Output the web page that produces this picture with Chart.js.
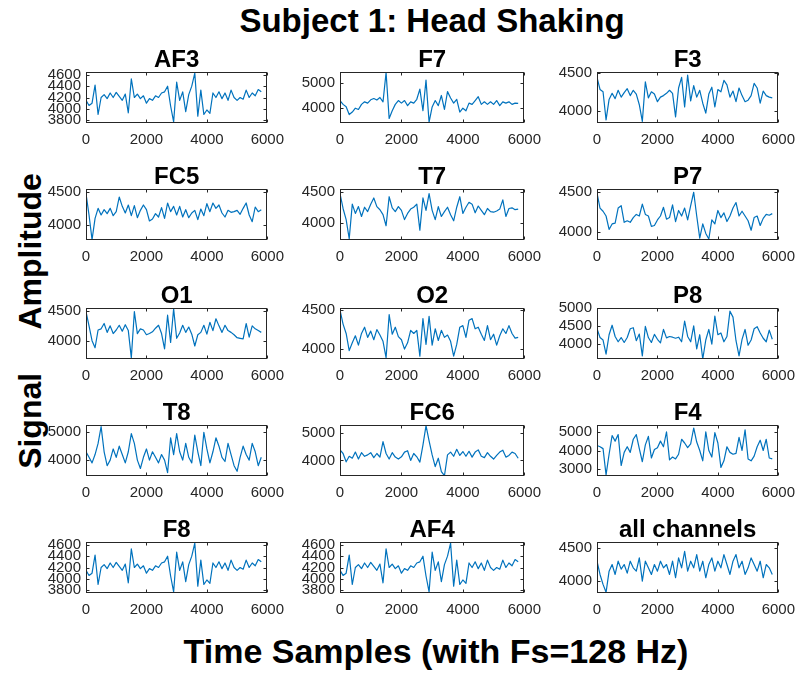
<!DOCTYPE html>
<html>
<head>
<meta charset="utf-8">
<script src="https://cdn.jsdelivr.net/npm/chart.js@4.4.0/dist/chart.umd.min.js"></script>
<style>
  body { margin: 0; background: #fff; }
  #wrap { position: relative; width: 803px; height: 675px; overflow: hidden; font-family: "Liberation Sans", Arial, sans-serif; }
  .cv { position: absolute; }
  .lbl { position: absolute; font-weight: bold; color: #000; line-height: 1; white-space: pre; }
</style>
</head>
<body>
<div id="wrap">
  <div class="lbl" style="font-size:33px; left:432px; top:4px; transform:translateX(-50%);">Subject 1: Head Shaking</div>
  <div class="lbl" style="font-size:32px; left:30px; top:321px; transform:translate(-50%,-50%) rotate(-90deg);">Signal     Amplitude</div>
  <div class="lbl" style="font-size:34px; left:436px; top:634px; transform:translateX(-50%);">Time Samples (with Fs=128 Hz)</div>
</div>
<script>
(function () {
  'use strict';

  // sample index of each plotted point
  const SAMPLES = [0, 100, 200, 300, 400, 500, 600, 700, 800, 900,
    1000, 1100, 1200, 1300, 1400, 1500, 1600, 1700, 1800, 1900,
    2000, 2100, 2200, 2300, 2400, 2500, 2600, 2700, 2800, 2900,
    3000, 3100, 3200, 3300, 3400, 3500, 3600, 3700, 3800, 3900,
    4000, 4100, 4200, 4300, 4400, 4500, 4600, 4700, 4800, 4900,
    5000, 5100, 5200, 5300, 5400, 5500, 5600, 5700, 5800];
  const X_TICKS = [0, 2000, 4000, 6000];

  const CHANNELS = ['AF3', 'F7', 'F3', 'FC5', 'T7', 'P7', 'O1', 'O2', 'P8', 'T8', 'FC6', 'F4', 'F8', 'AF4', 'all channels'];

  const AF3 = [4150, 4060, 4100, 4420, 3900, 4200, 4250, 4180, 4280, 4200,
    4290, 4220, 4150, 4260, 3930, 4530, 4200, 4260, 4180, 4230,
    4100, 4180, 4150, 4230, 4200, 4280, 4300, 4400, 4050, 3770,
    4470, 4150, 4300, 3950, 4250, 4400, 4630, 3870, 4330, 3900,
    3980, 3920, 4280, 4200, 4300, 4180, 4280, 4150, 4330, 4200,
    4150, 4200, 4170, 4330, 4200, 4280, 4230, 4340, 4300];
  const F7 = [4300, 4150, 4060, 3750, 3850, 4000, 3950, 4150, 4250, 4200,
    4330, 4380, 4320, 4420, 4250, 5400, 3600, 3900, 4150, 4300,
    4200, 4300, 4100, 4250, 4200, 4350, 4750, 3900, 5100, 3450,
    4050, 4300, 4100, 4500, 3950, 4650, 4400, 4200, 4350, 3850,
    4000, 3900, 4200, 4150, 4300, 4450, 4150, 4250, 4150, 4250,
    4150, 4300, 4100, 4250, 4200, 4250, 4150, 4200, 4190];
  const F3 = [4440, 4280, 4250, 3880, 4150, 4230, 4160, 4270, 4180, 4240,
    4290, 4200, 4270, 4220, 4080, 3860, 4380, 4170, 4250, 4220,
    4120, 4180, 4200, 4230, 4270, 4230, 3920, 4300, 4440, 4050,
    4470, 4130, 4330, 4180, 4270, 4100, 3970, 4220, 4310, 4050,
    4280, 4250, 4400, 4340, 4180, 4260, 4120, 4300, 4200, 4120,
    4140, 4200, 4360, 4300, 4100, 4260, 4200, 4180, 4170];
  const FC5 = [4470, 4150, 3780, 4100, 4250, 4150, 4230, 4170, 4250, 4140,
    4200, 4420, 4280, 4180, 4300, 4140, 4290, 4110, 4220, 4300,
    4230, 4060, 4090, 4170, 4120, 4260, 4100, 4330, 4200, 4280,
    4150, 4280, 4120, 4230, 4110, 4180, 4220, 4080, 4240, 4140,
    4320, 4200, 4330, 4250, 4300, 4180, 4120, 4220, 4190, 4200,
    4220, 4160, 4250, 4330, 4150, 4050, 4270, 4200, 4230];
  const T7 = [4470, 4230, 4050, 3740, 4300, 4150, 4260, 4100, 4250, 4180,
    4300, 4400, 4260, 4210, 4130, 3950, 4420, 4240, 4180, 4260,
    4200, 4050, 4150, 4220, 4250, 4300, 3880, 4400, 4200, 4470,
    4200, 4050, 4260, 4100, 4180, 4250, 4130, 4030, 4250, 4420,
    4150, 4250, 4330, 4300, 4160, 4270, 4200, 4130, 4230, 4180,
    4170, 4190, 4220, 4370, 4100, 4230, 4240, 4210, 4220];
  const P7 = [4490, 4300, 4260, 4200, 4030, 4100, 4110, 4300, 4330, 4120,
    4140, 4120, 4180, 4220, 4200, 4350, 4220, 4200, 4070, 4080,
    4150, 4200, 4310, 4160, 4180, 4340, 4130, 4270, 4200, 4300,
    4150, 4330, 4500, 4200, 3920, 4100, 3980, 3910, 4150, 4100,
    4270, 4180, 4240, 4130, 4200, 4300, 4370, 4200, 4260, 4200,
    4140, 4020, 4180, 4200, 4080, 4170, 4220, 4210, 4230];
  const O1 = [4490, 4250, 4000, 3880, 4180, 4200, 4290, 4140, 4250, 4120,
    4180, 4260, 4160, 4270, 4170, 3710, 4490, 4120, 4200, 4180,
    4100, 4120, 4150, 4210, 4260, 4120, 3860, 4430, 3970, 4540,
    4040, 4130, 4260, 4140, 4230, 4110, 3910, 4100, 4140, 4260,
    4110, 4310, 4170, 4370, 4250, 4140, 4260, 4170, 4140, 4100,
    4050, 4040, 4030, 4290, 4060, 4250, 4200, 4170, 4140];
  const O2 = [4500, 4320, 4200, 3980, 4080, 4170, 4050, 4200, 4280, 4150,
    4230, 4120, 4250, 4180, 4100, 3890, 4440, 4190, 4280, 4160,
    4120, 4000, 4080, 4240, 4200, 4240, 3910, 4390, 4060, 4420,
    4050, 4260, 4110, 4240, 4150, 4180, 4100, 3910, 4060, 4280,
    4300, 4150, 4370, 4390, 4260, 4280, 4190, 4110, 4300, 4120,
    4190, 4050, 4170, 4260, 4200, 4300, 4200, 4140, 4150];
  const P8 = [4420, 4170, 4100, 3700, 4250, 4520, 4200, 4050, 4170, 4030,
    4170, 4420, 4450, 4080, 4270, 3650, 4490, 4170, 4030, 4260,
    4120, 4020, 4400, 4160, 4200, 4180, 4150, 4180, 4050, 4640,
    4200, 4050, 4500, 3850, 4250, 3560, 4100, 4400, 3980, 4780,
    4250, 4300, 4050, 4200, 4920, 4750, 4080, 3650, 4120, 4400,
    3950, 4100, 4420, 4480, 4300, 4150, 4050, 4380, 4120];
  const T8 = [4300, 4100, 3900, 4200, 4600, 5200, 4300, 3800, 4000, 4400,
    4100, 4500, 4200, 3900, 4300, 4950, 4600, 4000, 3700, 4100,
    4400, 4000, 4300, 4100, 3900, 4200, 4000, 3550, 4800, 4200,
    4950, 4300, 4000, 4600, 4100, 3900, 4900, 4300, 3800, 5000,
    4400, 3900, 4300, 4800, 4500, 4100, 3950, 4600, 4200, 3800,
    3600, 4100, 4500, 4200, 4000, 4600, 4300, 3800, 4100];
  const FC6 = [4380, 4250, 3950, 4150, 4080, 4300, 4050, 4280, 4150, 4200,
    4280, 4100, 4250, 4120, 4680, 4250, 4050, 4280, 4120, 4050,
    4130, 4300, 4350, 4000, 4250, 4130, 3940, 4550, 5250, 4700,
    4200, 3780, 4080, 3600, 3450, 4200, 4300, 4150, 4400, 4180,
    4320, 4150, 4330, 4120, 4300, 4380, 4150, 4100, 4280, 4150,
    4050, 4180, 4300, 4370, 4120, 4180, 4300, 4250, 4080];
  const F4 = [4270, 4200, 4100, 2700, 3800, 4800, 4500, 4850, 3200, 3900,
    4200, 3900, 4600, 4850, 4100, 3400, 4300, 4750, 3600, 4050,
    4150, 4500, 4200, 5000, 3500, 3650, 3550, 3800, 4600, 4400,
    4150, 4350, 5200, 4450, 4000, 3450, 5000, 4000, 3650, 4950,
    4400, 3100, 3450, 4200, 3900, 3800, 3850, 4700, 4000, 5100,
    3550, 3450, 3700, 4200, 4550, 4000, 4600, 3600, 3550];
  // F8 and AF4 trace the same curve as AF3 in the picture
  const F8 = AF3.slice();
  const AF4 = AF3.slice();
  const ALL = [4300, 4100, 3950, 3830, 4150, 4250, 4100, 4300, 4180, 4250,
    4120, 4300, 4200, 4150, 4350, 4000, 4300, 4200, 4100, 4250,
    4150, 4300, 4200, 4250, 4100, 4300, 4050, 4350, 4200, 4450,
    4150, 4300, 4200, 4400, 4150, 4300, 4050, 4250, 4350, 4150,
    4300, 4200, 4400, 4250, 4100, 4300, 4400, 4200, 4300, 4100,
    4200, 4350, 4250, 4150, 4300, 4050, 4250, 4200, 4100];

  const SERIES = [AF3, F7, F3, FC5, T7, P7, O1, O2, P8, T8, FC6, F4, F8, AF4, ALL];

  const Y_MIN = [3750, 3420, 3840, 3775, 3720, 3897, 3690, 3873, 3560, 3430, 3440, 2640, 3750, 3750, 3820];
  const Y_MAX = [4650, 5420, 4510, 4540, 4545, 4541, 4552, 4526, 5010, 5260, 5275, 5360, 4650, 4650, 4590];
  const Y_TICKS = [
    [3800, 4000, 4200, 4400, 4600], [4000, 5000], [4000, 4500],
    [4000, 4500], [4000, 4500], [4000, 4500],
    [4000, 4500], [4000, 4500], [4000, 4500, 5000],
    [4000, 5000], [4000, 5000], [3000, 4000, 5000],
    [3800, 4000, 4200, 4400, 4600], [3800, 4000, 4200, 4400, 4600], [4000, 4500]
  ];

  const COL_LEFT = [86, 340, 597];
  const COL_W = [184, 187, 184];
  const ROW_TOP = [72, 189, 308, 425, 542];
  const BOX_H = 51;
  const AXIS_W = 62, TITLE_H = 28, XAXIS_H = 26, PAD_R = 22;
  const FONT = '"Liberation Sans", Arial, sans-serif';
  const INK = '#262626';

  // MATLAB-like box with inward tick marks plus the panel title
  const boxPlugin = {
    id: 'matBox',
    afterDraw(chart, args, opts) {
      const { ctx, chartArea: a, scales } = chart;
      const l = Math.round(a.left) + 0.5, r = Math.round(a.right) - 0.5;
      const t = Math.round(a.top) + 0.5, b = Math.round(a.bottom) - 0.5;
      ctx.save();
      ctx.strokeStyle = INK;
      ctx.lineWidth = 1;
      ctx.strokeRect(l, t, r - l, b - t);
      ctx.beginPath();
      scales.x.ticks.forEach((tk) => {
        const px = Math.round(scales.x.getPixelForValue(tk.value)) + 0.5;
        ctx.moveTo(px, b); ctx.lineTo(px, b - 3);
        ctx.moveTo(px, t); ctx.lineTo(px, t + 3);
      });
      scales.y.ticks.forEach((tk) => {
        const py = Math.round(scales.y.getPixelForValue(tk.value)) + 0.5;
        ctx.moveTo(l, py); ctx.lineTo(l + 3, py);
        ctx.moveTo(r, py); ctx.lineTo(r - 3, py);
      });
      ctx.stroke();
      ctx.fillStyle = '#000';
      ctx.font = 'bold 24px ' + FONT;
      ctx.textAlign = 'center';
      ctx.textBaseline = 'alphabetic';
      ctx.fillText(opts.text, (a.left + a.right) / 2, a.top - 5);
      ctx.restore();
    }
  };

  function makePanel(i) {
    const col = i % 3, row = Math.floor(i / 3);
    const w = AXIS_W + COL_W[col] + PAD_R;
    const h = TITLE_H + BOX_H + XAXIS_H;
    const canvas = document.createElement('canvas');
    canvas.className = 'cv';
    canvas.width = w; canvas.height = h;
    canvas.style.left = (COL_LEFT[col] - AXIS_W) + 'px';
    canvas.style.top = (ROW_TOP[row] - TITLE_H) + 'px';
    canvas.style.width = w + 'px'; canvas.style.height = h + 'px';
    document.getElementById('wrap').appendChild(canvas);

    const tickFont = { family: FONT, size: 15 };
    const plain = (v) => String(v);
    new Chart(canvas.getContext('2d'), {
      type: 'line',
      data: {
        datasets: [{
          data: SAMPLES.map((s, k) => ({ x: s, y: SERIES[i][k] })),
          borderColor: '#0072BD',
          borderWidth: 1.2,
          borderJoinStyle: 'round',
          pointRadius: 0,
          tension: 0
        }]
      },
      options: {
        responsive: false,
        animation: false,
        events: [],
        layout: { padding: { top: TITLE_H, right: PAD_R, left: 0, bottom: 0 } },
        plugins: {
          legend: { display: false },
          tooltip: { enabled: false },
          matBox: { text: CHANNELS[i] }
        },
        scales: {
          x: {
            type: 'linear',
            min: 0,
            max: 6000,
            afterBuildTicks: (s) => { s.ticks = X_TICKS.map((v) => ({ value: v })); },
            afterFit: (s) => { s.height = XAXIS_H; },
            ticks: { autoSkip: false, maxRotation: 0, padding: 8, font: tickFont, color: INK, callback: plain },
            grid: { display: false, drawTicks: false },
            border: { display: false }
          },
          y: {
            min: Y_MIN[i],
            max: Y_MAX[i],
            afterBuildTicks: (s) => { s.ticks = Y_TICKS[i].map((v) => ({ value: v })); },
            afterFit: (s) => { s.width = AXIS_W; },
            ticks: { autoSkip: false, padding: 5, font: tickFont, color: INK, callback: plain },
            grid: { display: false, drawTicks: false },
            border: { display: false }
          }
        }
      },
      plugins: [boxPlugin]
    });
  }

  CHANNELS.forEach((name, i) => makePanel(i));
})();
</script>
</body>
</html>
